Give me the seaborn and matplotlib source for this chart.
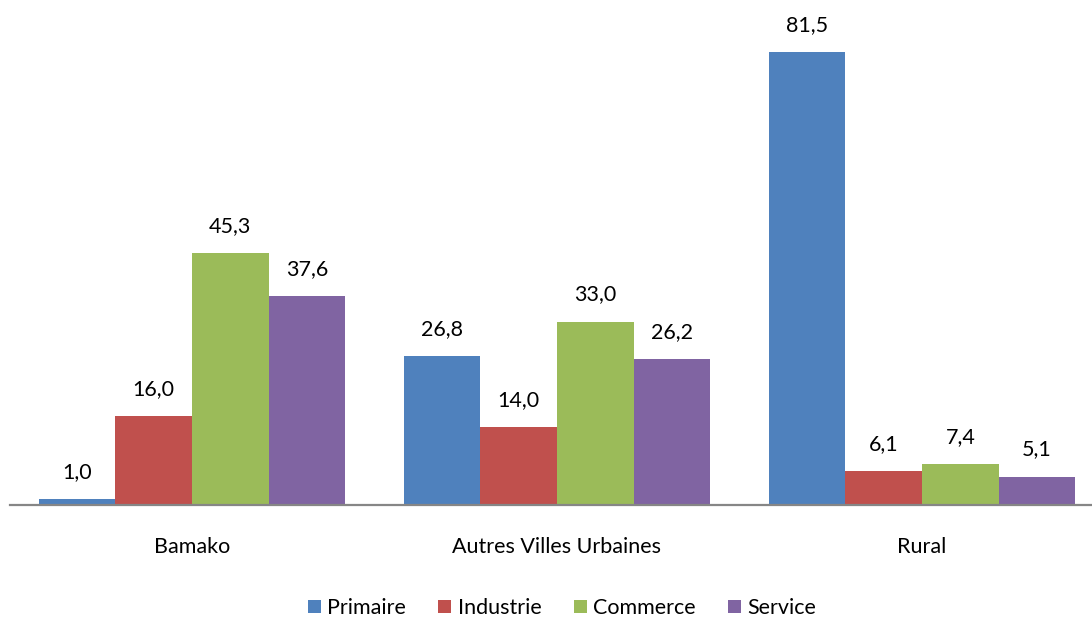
import matplotlib
matplotlib.use("Agg")
import matplotlib.pyplot as plt
import seaborn as sns
import pandas as pd
from matplotlib.patches import Patch

# Employment by sector (%) per area
zones = ["Bamako", "Autres Villes Urbaines", "Rural"]
secteurs = ["Primaire", "Industrie", "Commerce", "Service"]
primaire = [1.0, 26.8, 81.5]
industrie = [16.0, 14.0, 6.1]
commerce = [45.3, 33.0, 7.4]
service = [37.6, 26.2, 5.1]
couleurs = ["#4F81BD", "#C0504D", "#9BBB59", "#8064A2"]

rows = []
for s, vals in zip(secteurs, [primaire, industrie, commerce, service]):
    for z, v in zip(zones, vals):
        rows.append({"zone": z, "secteur": s, "valeur": v})
df = pd.DataFrame(rows)

sns.set_theme(style="white")
plt.rcParams["font.family"] = ["Lato", "DejaVu Sans"]

W, H = 1092, 619
fig = plt.figure(figsize=(W / 100, H / 100), dpi=100)
base_px = 505
ax = fig.add_axes([10 / W, (H - base_px) / H, 1082 / W, base_px / H])

sns.barplot(data=df, x="zone", y="valeur", hue="secteur", order=zones,
            hue_order=secteurs, palette=couleurs, width=0.84, gap=0,
            saturation=1, ax=ax, legend=False, linewidth=0)

ax.set_xlim(-182 / 365, (W - 10 - 192 + 10) / 365)
ax.set_ylim(0, base_px / 5.56)

for cont in ax.containers:
    for bar in cont:
        h = bar.get_height()
        ax.annotate(f"{h:.1f}".replace(".", ","),
                    (bar.get_x() + bar.get_width() / 2, h),
                    xytext=(0, 19.5), textcoords="offset points",
                    ha="center", va="center", fontsize=15.5, color="#000000")

for sp in ["top", "right", "left"]:
    ax.spines[sp].set_visible(False)
ax.spines["bottom"].set_color("#868686")
ax.spines["bottom"].set_linewidth(1.6)
ax.set_yticks([])
ax.set_xlabel("")
ax.set_ylabel("")
ax.tick_params(axis="x", length=0, pad=23, labelsize=15.5, labelcolor="#000000")

handles = [Patch(facecolor=c, edgecolor="none") for c in couleurs]
fig.legend(handles, secteurs, loc="center", bbox_to_anchor=(562 / W, 1 - 608 / H),
           ncol=4, frameon=False, fontsize=15.5, handlelength=0.6, handleheight=0.6,
           handletextpad=0.3, columnspacing=1.5, labelcolor="#000000")

fig.savefig("out.png", dpi=100)
